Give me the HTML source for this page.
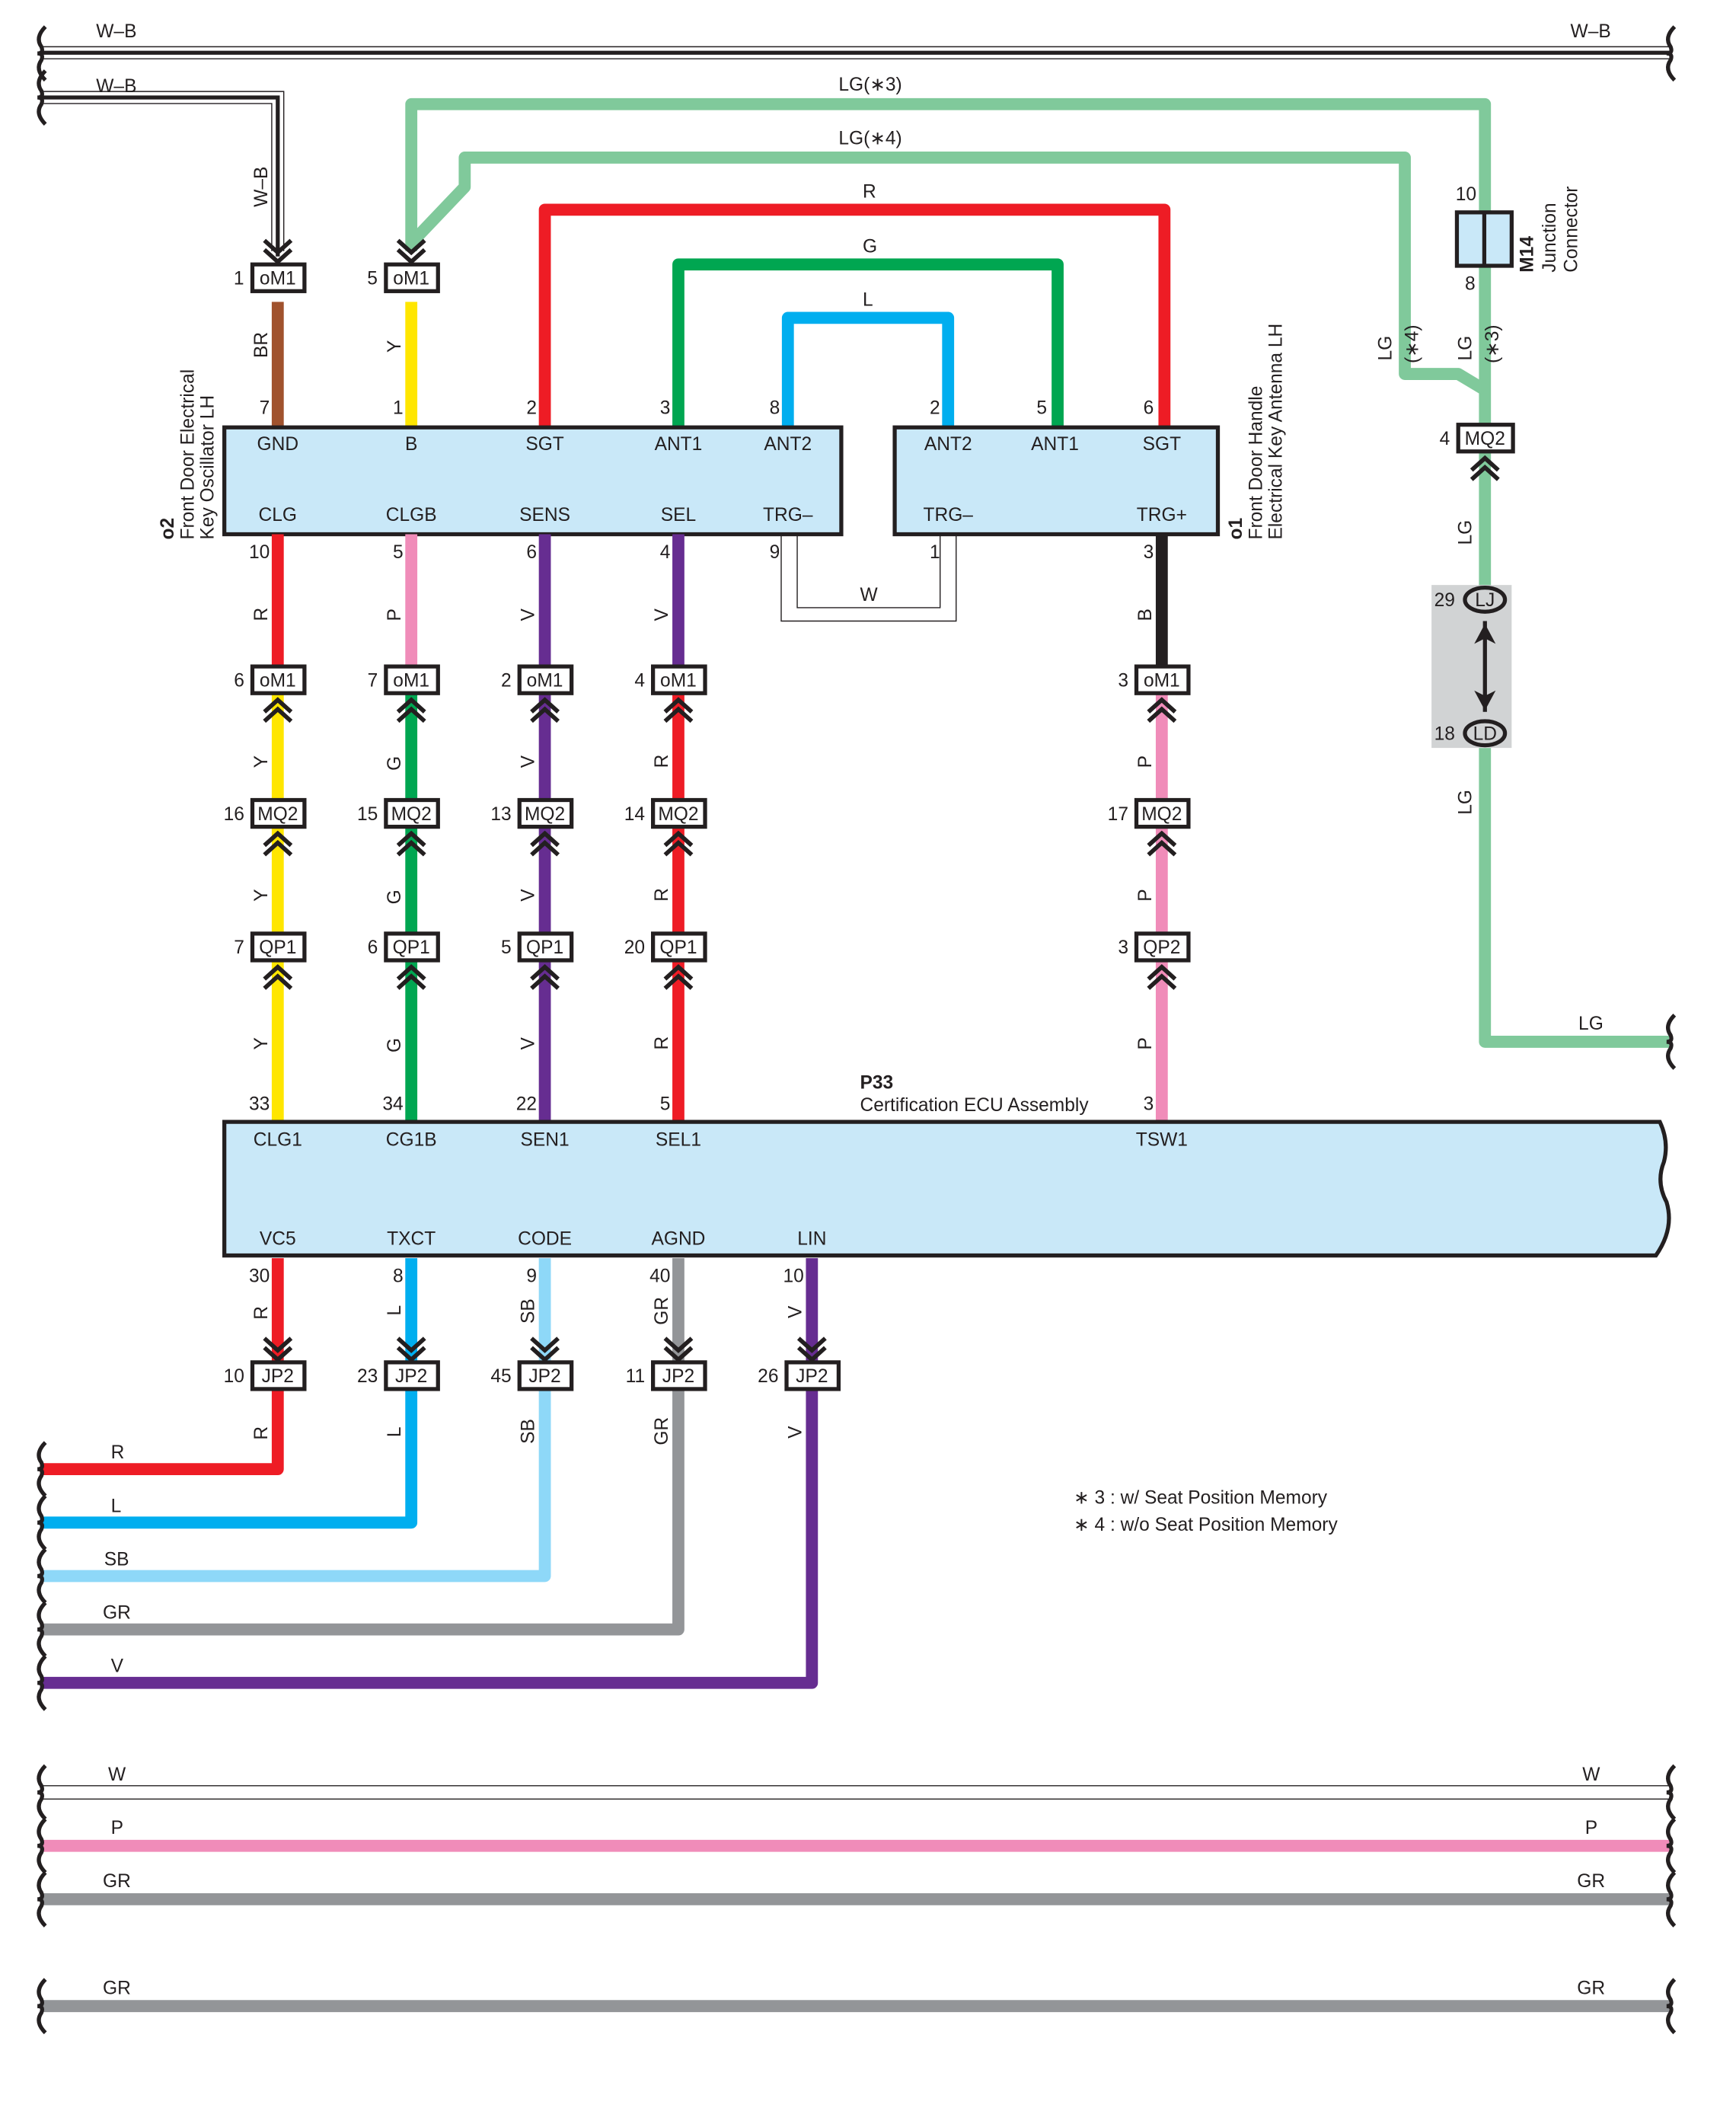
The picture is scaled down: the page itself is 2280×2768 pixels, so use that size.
<!DOCTYPE html>
<html><head><meta charset="utf-8"><style>
html,body{margin:0;padding:0;background:#fff;}
svg{display:block;}
text{font-family:"Liberation Sans Narrow","Liberation Sans",sans-serif;fill:#231f20;}
</style></head><body>
<svg width="2280" height="2768" viewBox="0 0 1300 1578.3" preserveAspectRatio="none" xmlns="http://www.w3.org/2000/svg">
<defs>
<g id="chd"><polyline points="-10,-14 0,-5 10,-14" fill="none" stroke="#231f20" stroke-width="3.2"/><polyline points="-10,-7 0,2 10,-7" fill="none" stroke="#231f20" stroke-width="3.2"/></g>
<g id="chu"><polyline points="-10,14 0,5 10,14" fill="none" stroke="#231f20" stroke-width="3.2"/><polyline points="-10,7 0,-2 10,7" fill="none" stroke="#231f20" stroke-width="3.2"/></g>
<path id="brace" d="M4,-20 Q-4,-12 1,-5 Q3,0 -2,0 Q3,0 1,5 Q-4,12 4,20" fill="none" stroke="#231f20" stroke-width="3"/>
</defs>

<!-- top W-B buses -->
<g>
<line x1="30" y1="35" x2="1250" y2="35" stroke="#231f20" stroke-width="0.8"/>
<line x1="30" y1="44" x2="1250" y2="44" stroke="#231f20" stroke-width="0.8"/>
<line x1="30" y1="39.5" x2="1250" y2="39.5" stroke="#231f20" stroke-width="3"/>
<path d="M30,129 H283 V305" fill="none" stroke="#231f20" stroke-width="0.8" transform="scale(1) translate(0,0)" opacity="0"/>
<path d="M30,68.5 H212.5 V188" fill="none" stroke="#231f20" stroke-width="0.8"/>
<path d="M30,77.5 H203.5 V188" fill="none" stroke="#231f20" stroke-width="0.8"/>
<path d="M30,73 H208 V192" fill="none" stroke="#231f20" stroke-width="3"/>
<use href="#brace" x="30" y="40"/><use href="#brace" x="30" y="73"/><use href="#brace" x="1250" y="40"/>
<text x="72" y="28" font-size="14">W–B</text><text x="72" y="69" font-size="14">W–B</text><text x="1176" y="28" font-size="14">W–B</text>
<text transform="translate(200,155) rotate(-90)" font-size="14">W–B</text>
</g>

<!-- LG wires -->
<g fill="none" stroke="#80c99b" stroke-width="9" stroke-linejoin="round">
<path d="M308,188 V78 H1112 V300 V440"/>
<path d="M308,182 L348,140 V118 H1052 V280 H1092 L1112,292"/>
<path d="M1112,560 V780 H1250"/>
</g>
<text x="628" y="68" font-size="14">LG(∗3)</text>
<text x="628" y="108" font-size="14">LG(∗4)</text>

<!-- upper loop wires -->
<g fill="none" stroke-width="9" stroke-linejoin="round">
<path d="M408,320 V157 H872 V320" stroke="#ee1c25"/>
<path d="M508,320 V198 H792 V320" stroke="#00a651"/>
<path d="M590,320 V238 H710 V320" stroke="#00aeef"/>
<path d="M208,226 V320" stroke="#a0522d"/>
<path d="M308,226 V320" stroke="#ffe600"/>
</g>
<text x="646" y="148" font-size="14">R</text>
<text x="646" y="189" font-size="14">G</text>
<text x="646" y="229" font-size="14">L</text>
<text transform="translate(200,268) rotate(-90)" font-size="14">BR</text>
<text transform="translate(300,264) rotate(-90)" font-size="14">Y</text>

<!-- W thin loop -->
<path d="M585,400 V465 H716 V400" fill="none" stroke="#231f20" stroke-width="0.8"/>
<path d="M597,400 V455 H704 V400" fill="none" stroke="#231f20" stroke-width="0.8"/>
<text x="644" y="450" font-size="14">W</text>

<!-- top connectors -->
<use href="#chd" x="208" y="194"/><use href="#chd" x="308" y="194"/>
<g font-size="14">
<rect x="189" y="198" width="39" height="20" fill="#fff" stroke="#231f20" stroke-width="3"/><text x="208" y="213" text-anchor="middle">oM1</text><text x="175" y="213">1</text>
<rect x="289" y="198" width="39" height="20" fill="#fff" stroke="#231f20" stroke-width="3"/><text x="308" y="213" text-anchor="middle">oM1</text><text x="275" y="213">5</text>
</g>

<!-- component boxes -->
<rect x="168" y="320" width="462" height="80" fill="#c9e8f8" stroke="#231f20" stroke-width="3"/>
<rect x="670" y="320" width="242" height="80" fill="#c9e8f8" stroke="#231f20" stroke-width="3"/>
<g font-size="14" text-anchor="middle">
<text x="208" y="337">GND</text><text x="308" y="337">B</text><text x="408" y="337">SGT</text><text x="508" y="337">ANT1</text><text x="590" y="337">ANT2</text>
<text x="208" y="390">CLG</text><text x="308" y="390">CLGB</text><text x="408" y="390">SENS</text><text x="508" y="390">SEL</text><text x="590" y="390">TRG–</text>
<text x="710" y="337">ANT2</text><text x="790" y="337">ANT1</text><text x="870" y="337">SGT</text>
<text x="710" y="390">TRG–</text><text x="870" y="390">TRG+</text>
</g>
<g font-size="14" text-anchor="end">
<text x="202" y="310">7</text><text x="302" y="310">1</text><text x="402" y="310">2</text><text x="502" y="310">3</text><text x="584" y="310">8</text>
<text x="704" y="310">2</text><text x="784" y="310">5</text><text x="864" y="310">6</text>
<text x="202" y="418">10</text><text x="302" y="418">5</text><text x="402" y="418">6</text><text x="502" y="418">4</text><text x="584" y="418">9</text>
<text x="704" y="418">1</text><text x="864" y="418">3</text>
</g>
<text transform="translate(130,404) rotate(-90)" font-size="14"><tspan font-weight="bold">o2</tspan></text>
<text transform="translate(145,404) rotate(-90)" font-size="14">Front Door Electrical</text>
<text transform="translate(160,404) rotate(-90)" font-size="14">Key Oscillator LH</text>
<text transform="translate(930,404) rotate(-90)" font-size="14"><tspan font-weight="bold">o1</tspan></text>
<text transform="translate(945,404) rotate(-90)" font-size="14">Front Door Handle</text>
<text transform="translate(960,404) rotate(-90)" font-size="14">Electrical Key Antenna LH</text>

<!-- vertical runs middle -->
<g stroke-width="9" fill="none">
<line x1="208" y1="400" x2="208" y2="500" stroke="#ee1c25"/><line x1="208" y1="520" x2="208" y2="840" stroke="#ffe600"/>
<line x1="308" y1="400" x2="308" y2="500" stroke="#f08cb9"/><line x1="308" y1="520" x2="308" y2="840" stroke="#00a651"/>
<line x1="408" y1="400" x2="408" y2="840" stroke="#662d91"/>
<line x1="508" y1="400" x2="508" y2="500" stroke="#662d91"/><line x1="508" y1="520" x2="508" y2="840" stroke="#ee1c25"/>
<line x1="870" y1="400" x2="870" y2="500" stroke="#231f20"/><line x1="870" y1="520" x2="870" y2="840" stroke="#f08cb9"/>
</g>
<g font-size="14">
<text transform="translate(200,465) rotate(-90)">R</text><text transform="translate(300,465) rotate(-90)">P</text><text transform="translate(400,465) rotate(-90)">V</text><text transform="translate(500,465) rotate(-90)">V</text><text transform="translate(862,465) rotate(-90)">B</text>
<text transform="translate(200,575) rotate(-90)">Y</text><text transform="translate(300,577) rotate(-90)">G</text><text transform="translate(400,575) rotate(-90)">V</text><text transform="translate(500,575) rotate(-90)">R</text><text transform="translate(862,575) rotate(-90)">P</text>
<text transform="translate(200,675) rotate(-90)">Y</text><text transform="translate(300,677) rotate(-90)">G</text><text transform="translate(400,675) rotate(-90)">V</text><text transform="translate(500,675) rotate(-90)">R</text><text transform="translate(862,675) rotate(-90)">P</text>
<text transform="translate(200,786) rotate(-90)">Y</text><text transform="translate(300,788) rotate(-90)">G</text><text transform="translate(400,786) rotate(-90)">V</text><text transform="translate(500,786) rotate(-90)">R</text><text transform="translate(862,786) rotate(-90)">P</text>
</g>

<!-- middle connectors -->
<g font-size="14">
<g id="r1">
<rect x="189" y="499" width="39" height="20" fill="#fff" stroke="#231f20" stroke-width="3"/><text x="208" y="514" text-anchor="middle">oM1</text>
<rect x="289" y="499" width="39" height="20" fill="#fff" stroke="#231f20" stroke-width="3"/><text x="308" y="514" text-anchor="middle">oM1</text>
<rect x="389" y="499" width="39" height="20" fill="#fff" stroke="#231f20" stroke-width="3"/><text x="408" y="514" text-anchor="middle">oM1</text>
<rect x="489" y="499" width="39" height="20" fill="#fff" stroke="#231f20" stroke-width="3"/><text x="508" y="514" text-anchor="middle">oM1</text>
<rect x="851" y="499" width="39" height="20" fill="#fff" stroke="#231f20" stroke-width="3"/><text x="870" y="514" text-anchor="middle">oM1</text>
</g>
<rect x="189" y="599" width="39" height="20" fill="#fff" stroke="#231f20" stroke-width="3"/><text x="208" y="614" text-anchor="middle">MQ2</text>
<rect x="289" y="599" width="39" height="20" fill="#fff" stroke="#231f20" stroke-width="3"/><text x="308" y="614" text-anchor="middle">MQ2</text>
<rect x="389" y="599" width="39" height="20" fill="#fff" stroke="#231f20" stroke-width="3"/><text x="408" y="614" text-anchor="middle">MQ2</text>
<rect x="489" y="599" width="39" height="20" fill="#fff" stroke="#231f20" stroke-width="3"/><text x="508" y="614" text-anchor="middle">MQ2</text>
<rect x="851" y="599" width="39" height="20" fill="#fff" stroke="#231f20" stroke-width="3"/><text x="870" y="614" text-anchor="middle">MQ2</text>
<rect x="189" y="699" width="39" height="20" fill="#fff" stroke="#231f20" stroke-width="3"/><text x="208" y="714" text-anchor="middle">QP1</text>
<rect x="289" y="699" width="39" height="20" fill="#fff" stroke="#231f20" stroke-width="3"/><text x="308" y="714" text-anchor="middle">QP1</text>
<rect x="389" y="699" width="39" height="20" fill="#fff" stroke="#231f20" stroke-width="3"/><text x="408" y="714" text-anchor="middle">QP1</text>
<rect x="489" y="699" width="39" height="20" fill="#fff" stroke="#231f20" stroke-width="3"/><text x="508" y="714" text-anchor="middle">QP1</text>
<rect x="851" y="699" width="39" height="20" fill="#fff" stroke="#231f20" stroke-width="3"/><text x="870" y="714" text-anchor="middle">QP2</text>
<g text-anchor="end">
<text x="183" y="514">6</text><text x="283" y="514">7</text><text x="383" y="514">2</text><text x="483" y="514">4</text><text x="845" y="514">3</text>
<text x="183" y="614">16</text><text x="283" y="614">15</text><text x="383" y="614">13</text><text x="483" y="614">14</text><text x="845" y="614">17</text>
<text x="183" y="714">7</text><text x="283" y="714">6</text><text x="383" y="714">5</text><text x="483" y="714">20</text><text x="845" y="714">3</text>
<text x="202" y="831">33</text><text x="302" y="831">34</text><text x="402" y="831">22</text><text x="502" y="831">5</text><text x="864" y="831">3</text>
</g>
</g>
<g>
<use href="#chu" x="208" y="526"/><use href="#chu" x="308" y="526"/><use href="#chu" x="408" y="526"/><use href="#chu" x="508" y="526"/><use href="#chu" x="870" y="526"/>
<use href="#chu" x="208" y="626"/><use href="#chu" x="308" y="626"/><use href="#chu" x="408" y="626"/><use href="#chu" x="508" y="626"/><use href="#chu" x="870" y="626"/>
<use href="#chu" x="208" y="726"/><use href="#chu" x="308" y="726"/><use href="#chu" x="408" y="726"/><use href="#chu" x="508" y="726"/><use href="#chu" x="870" y="726"/>
</g>

<!-- M14 & right column -->
<rect x="1091" y="159" width="41" height="40" fill="#c9e8f8" stroke="#231f20" stroke-width="3"/>
<line x1="1111.5" y1="159" x2="1111.5" y2="199" stroke="#231f20" stroke-width="3"/>
<text x="1090" y="150" font-size="14">10</text><text x="1097" y="217" font-size="14">8</text>
<text transform="translate(1148,204) rotate(-90)" font-size="14" font-weight="bold">M14</text>
<text transform="translate(1165,204) rotate(-90)" font-size="14">Junction</text>
<text transform="translate(1181,204) rotate(-90)" font-size="14">Connector</text>
<g font-size="14">
<text transform="translate(1042,270) rotate(-90)">LG</text>
<text transform="translate(1062,272) rotate(-90)">(∗4)</text>
<text transform="translate(1102,270) rotate(-90)">LG</text>
<text transform="translate(1122,272) rotate(-90)">(∗3)</text>
<text transform="translate(1102,408) rotate(-90)">LG</text>
<text transform="translate(1102,610) rotate(-90)">LG</text>
</g>
<rect x="1092" y="318" width="41" height="20" fill="#fff" stroke="#231f20" stroke-width="3"/><text x="1112" y="333" text-anchor="middle" font-size="14">MQ2</text>
<text x="1078" y="333" font-size="14">4</text>
<use href="#chu" x="1112" y="345"/>
<rect x="1072" y="438" width="60" height="122" fill="#d1d3d4"/>
<line x1="1112" y1="440" x2="1112" y2="560" stroke="#80c99b" stroke-width="9" opacity="0"/>
<line x1="1112" y1="465" x2="1112" y2="533" stroke="#231f20" stroke-width="3"/>
<polygon points="1104,482 1112,467 1120,482 1112,478" fill="#231f20"/>
<polygon points="1104,517 1112,532 1120,517 1112,521" fill="#231f20"/>
<ellipse cx="1112" cy="449" rx="15" ry="9" fill="#d1d3d4" stroke="#231f20" stroke-width="3"/><text x="1112" y="454" text-anchor="middle" font-size="14">LJ</text>
<ellipse cx="1112" cy="549" rx="15" ry="9" fill="#d1d3d4" stroke="#231f20" stroke-width="3"/><text x="1112" y="554" text-anchor="middle" font-size="14">LD</text>
<text x="1074" y="454" font-size="14">29</text><text x="1074" y="554" font-size="14">18</text>
<text x="1182" y="771" font-size="14">LG</text>
<use href="#brace" x="1250" y="780"/>

<!-- ECU -->
<path d="M168,840 H1243 Q1250,855 1246,870 Q1240,885 1248,900 Q1254,920 1240,940 H168 Z" fill="#c9e8f8" stroke="#231f20" stroke-width="3"/>
<text x="644" y="815" font-size="14" font-weight="bold">P33</text>
<text x="644" y="832" font-size="14">Certification ECU Assembly</text>
<g font-size="14" text-anchor="middle">
<text x="208" y="858">CLG1</text><text x="308" y="858">CG1B</text><text x="408" y="858">SEN1</text><text x="508" y="858">SEL1</text><text x="870" y="858">TSW1</text>
<text x="208" y="932">VC5</text><text x="308" y="932">TXCT</text><text x="408" y="932">CODE</text><text x="508" y="932">AGND</text><text x="608" y="932">LIN</text>
</g>

<!-- bottom wires -->
<g fill="none" stroke-width="9" stroke-linejoin="round">
<path d="M208,942 V1100 H30" stroke="#ee1c25"/>
<path d="M308,942 V1140 H30" stroke="#00aeef"/>
<path d="M408,942 V1180 H30" stroke="#8ed8f8"/>
<path d="M508,942 V1220 H30" stroke="#939598"/>
<path d="M608,942 V1260 H30" stroke="#662d91"/>
<path d="M30,1382 H1250" stroke="#f08cb9"/>
<path d="M30,1422 H1250" stroke="#939598"/>
<path d="M30,1502 H1250" stroke="#939598"/>
</g>
<line x1="30" y1="1337" x2="1250" y2="1337" stroke="#231f20" stroke-width="0.8"/>
<line x1="30" y1="1347" x2="1250" y2="1347" stroke="#231f20" stroke-width="0.8"/>
<g>
<use href="#brace" x="30" y="1100"/><use href="#brace" x="30" y="1140"/><use href="#brace" x="30" y="1180"/><use href="#brace" x="30" y="1220"/><use href="#brace" x="30" y="1260"/>
<use href="#brace" x="30" y="1342"/><use href="#brace" x="30" y="1382"/><use href="#brace" x="30" y="1422"/><use href="#brace" x="30" y="1502"/>
<use href="#brace" x="1250" y="1342"/><use href="#brace" x="1250" y="1382"/><use href="#brace" x="1250" y="1422"/><use href="#brace" x="1250" y="1502"/>
</g>
<g font-size="14">
<text x="83" y="1092">R</text><text x="83" y="1132">L</text><text x="78" y="1172">SB</text><text x="77" y="1212">GR</text><text x="83" y="1252">V</text>
<text x="81" y="1333">W</text><text x="83" y="1373">P</text><text x="77" y="1413">GR</text><text x="77" y="1493">GR</text>
<text x="1185" y="1333">W</text><text x="1187" y="1373">P</text><text x="1181" y="1413">GR</text><text x="1181" y="1493">GR</text>
</g>
<g font-size="14" text-anchor="end">
<text x="202" y="960">30</text><text x="302" y="960">8</text><text x="402" y="960">9</text><text x="502" y="960">40</text><text x="602" y="960">10</text>
<text x="183" y="1035">10</text><text x="283" y="1035">23</text><text x="383" y="1035">45</text><text x="483" y="1035">11</text><text x="583" y="1035">26</text>
</g>
<g font-size="14">
<text transform="translate(200,988) rotate(-90)">R</text><text transform="translate(300,985) rotate(-90)">L</text><text transform="translate(400,991) rotate(-90)">SB</text><text transform="translate(500,992) rotate(-90)">GR</text><text transform="translate(600,987) rotate(-90)">V</text>
<text transform="translate(200,1078) rotate(-90)">R</text><text transform="translate(300,1076) rotate(-90)">L</text><text transform="translate(400,1081) rotate(-90)">SB</text><text transform="translate(500,1082) rotate(-90)">GR</text><text transform="translate(600,1077) rotate(-90)">V</text>
</g>
<g>
<use href="#chd" x="208" y="1016"/><use href="#chd" x="308" y="1016"/><use href="#chd" x="408" y="1016"/><use href="#chd" x="508" y="1016"/><use href="#chd" x="608" y="1016"/>
</g>
<g font-size="14">
<rect x="189" y="1020" width="39" height="20" fill="#fff" stroke="#231f20" stroke-width="3"/><text x="208" y="1035" text-anchor="middle">JP2</text>
<rect x="289" y="1020" width="39" height="20" fill="#fff" stroke="#231f20" stroke-width="3"/><text x="308" y="1035" text-anchor="middle">JP2</text>
<rect x="389" y="1020" width="39" height="20" fill="#fff" stroke="#231f20" stroke-width="3"/><text x="408" y="1035" text-anchor="middle">JP2</text>
<rect x="489" y="1020" width="39" height="20" fill="#fff" stroke="#231f20" stroke-width="3"/><text x="508" y="1035" text-anchor="middle">JP2</text>
<rect x="589" y="1020" width="39" height="20" fill="#fff" stroke="#231f20" stroke-width="3"/><text x="608" y="1035" text-anchor="middle">JP2</text>
</g>

<text x="804" y="1126" font-size="14">∗ 3 : w/ Seat Position Memory</text>
<text x="804" y="1146" font-size="14">∗ 4 : w/o Seat Position Memory</text>
</svg>
</body></html>
